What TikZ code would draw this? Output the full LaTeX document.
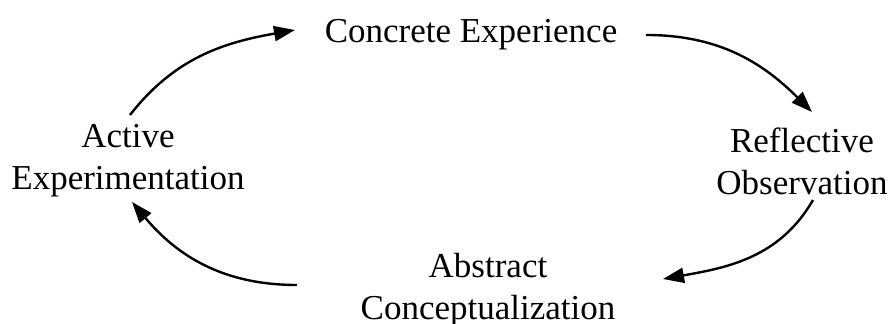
\documentclass[tikz,border=0pt]{standalone}
\usepackage{fontspec}
\setmainfont{Liberation Serif}
\usetikzlibrary{arrows.meta}

\begin{document}
\begin{tikzpicture}[x=0.5pt,y=0.5pt]
    \tikzstyle{stage}=[inner sep=0pt,align=center,anchor=base,font=\fontsize{17.5}{21}\selectfont]
    \tikzstyle{cycle}=[line width=1.2pt,-{Triangle[length=10.5pt,width=7.5pt]}]
    \useasboundingbox (0,0) rectangle (891,324);
      % the four stages (base = last line)
      \node[stage] (concrete) at (471,281) {Concrete Experience};
      \node[stage] (reflective) at (802,129) {Reflective\\Observation};
      \node[stage] (abstract) at (488,4) {Abstract\\Conceptualization};
      \node[stage] (active) at (128,134) {Active\\Experimentation};
      % arrow ends
      \coordinate (ac-out) at (130,209);
      \coordinate (ce-in) at (295,294);
      \coordinate (ce-out) at (646,289);
      \coordinate (ro-in) at (812,212);
      \coordinate (ro-out) at (813,124);
      \coordinate (ab-in) at (663,45);
      \coordinate (ab-out) at (297,39);
      \coordinate (ac-in) at (132,122);
      \draw[cycle] (ac-out) to[out=52,in=190] (ce-in);
      \draw[cycle] (ce-out) to[out=0,in=135] (ro-in);
      \draw[cycle] (ro-out) to[out=240,in=10] (ab-in);
      \draw[cycle] (ab-out) to[out=180,in=310] (ac-in);
\end{tikzpicture}
\end{document}
